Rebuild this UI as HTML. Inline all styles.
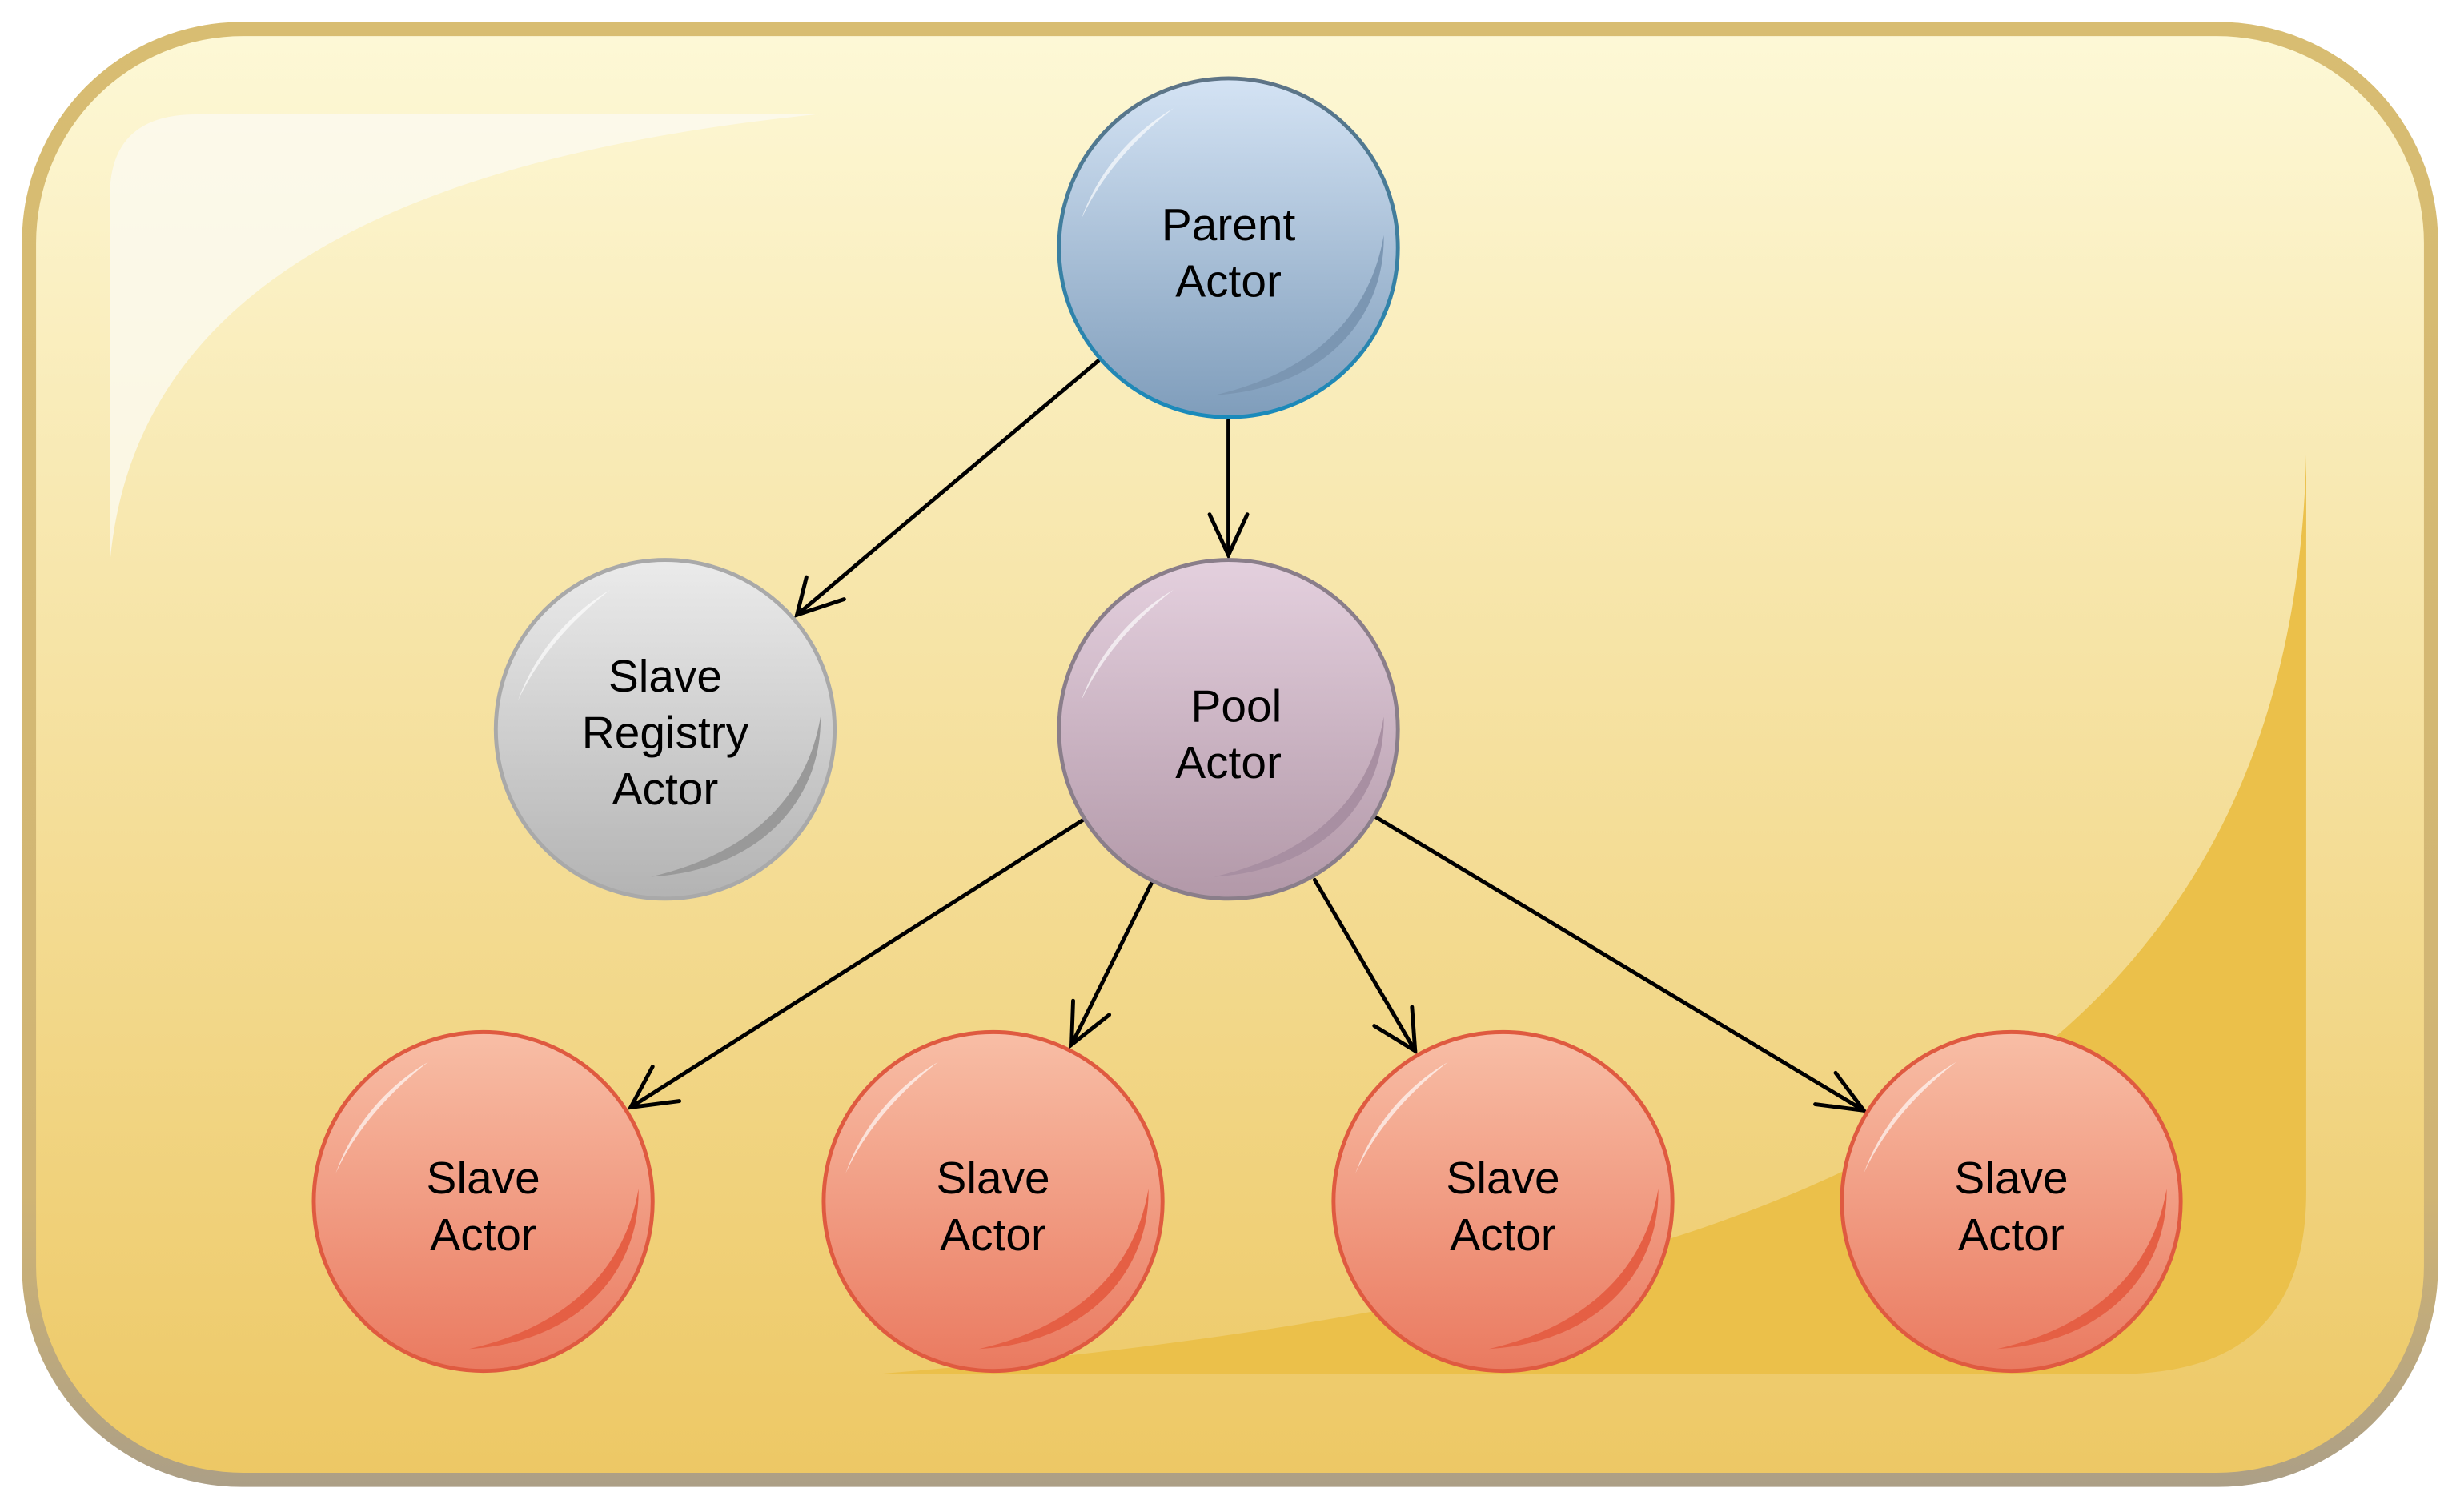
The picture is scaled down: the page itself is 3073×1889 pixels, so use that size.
<!DOCTYPE html>
<html><head><meta charset="utf-8"><style>html,body{margin:0;padding:0;background:#fff}svg{display:block}</style></head>
<body>
<svg width="3073" height="1889" viewBox="0 0 1568 964" preserveAspectRatio="none" xmlns="http://www.w3.org/2000/svg">
<defs>
<linearGradient id="bg" x1="0" y1="0" x2="0" y2="1"><stop offset="0" stop-color="#fdf8d6"/><stop offset="1" stop-color="#edc865"/></linearGradient>
<linearGradient id="bd" x1="0" y1="0" x2="0" y2="1"><stop offset="0" stop-color="#d8bd72"/><stop offset="0.8" stop-color="#d0b474"/><stop offset="1" stop-color="#ac9f86"/></linearGradient>
<linearGradient id="gb" x1="0" y1="0" x2="0" y2="1"><stop offset="0" stop-color="#d4e3f4"/><stop offset="1" stop-color="#7f9dbb"/></linearGradient>
<linearGradient id="sb" x1="0" y1="0" x2="0" y2="1"><stop offset="0" stop-color="#5e7486"/><stop offset="1" stop-color="#1a8abb"/></linearGradient>
<linearGradient id="gg" x1="0" y1="0" x2="0" y2="1"><stop offset="0" stop-color="#ebebeb"/><stop offset="1" stop-color="#b3b3b3"/></linearGradient>
<linearGradient id="gp" x1="0" y1="0" x2="0" y2="1"><stop offset="0" stop-color="#e4d0de"/><stop offset="1" stop-color="#b298a8"/></linearGradient>
<linearGradient id="gr" x1="0" y1="0" x2="0" y2="1"><stop offset="0" stop-color="#f8bea6"/><stop offset="1" stop-color="#ea7a60"/></linearGradient>
<g id="hl"><path d="M -94 -18 C -84 -46 -64 -72 -35 -89 C -62 -68 -82 -44 -94 -18 Z" fill="#fff" opacity="0.65"/></g>
</defs>
<rect x="14" y="14" width="1540" height="934" rx="140" fill="url(#bd)"/>
<rect x="23" y="23" width="1522" height="916" rx="132" fill="url(#bg)"/>
<path d="M 70 360 L 70 125 Q 70 73 125 73 L 520 73 C 260 100 85 180 70 360 Z" fill="#fbfaf0" opacity="0.8"/>
<path d="M 1470 290 L 1470 760 Q 1470 876 1350 876 L 560 876 C 1100 830 1460 720 1470 290 Z" fill="#ebc04a"/>
<g stroke="#000" stroke-width="2.5" fill="none" stroke-linecap="round">
<line x1="700" y1="230" x2="508" y2="392"/><path d="M 514 368 L 508 392 L 538 382"/>
<line x1="783" y1="268" x2="783" y2="354"/><path d="M 771 328 L 783 354 L 795 328"/>
<line x1="690" y1="523" x2="402" y2="706"/><path d="M 416 680 L 402 706 L 433 702"/>
<line x1="734" y1="563" x2="683" y2="666"/><path d="M 684 638 L 683 666 L 707 647"/>
<line x1="838" y1="561" x2="902" y2="670"/><path d="M 876 654 L 902 670 L 900 642"/>
<line x1="877" y1="521" x2="1188" y2="708"/><path d="M 1157 704 L 1188 708 L 1170 684"/>
</g>
<g font-family="Liberation Sans, sans-serif" font-size="29" text-anchor="middle" fill="#000">
<g transform="translate(783,158)"><circle r="108" fill="url(#gb)" stroke="url(#sb)" stroke-width="2.5"/><path d="M 99 -8 C 100 45 60 90 -9 94 C 52 80 90 45 99 -8 Z" fill="#7b96b2"/><use href="#hl"/><text y="-5">Parent</text><text y="31">Actor</text></g>
<g transform="translate(424,465)"><circle r="108" fill="url(#gg)" stroke="#a9a9a9" stroke-width="2.5"/><path d="M 99 -8 C 100 45 60 90 -9 94 C 52 80 90 45 99 -8 Z" fill="#999"/><use href="#hl"/><text y="-24">Slave</text><text y="12">Registry</text><text y="48">Actor</text></g>
<g transform="translate(783,465)"><circle r="108" fill="url(#gp)" stroke="#8a7e8a" stroke-width="2.5"/><path d="M 99 -8 C 100 45 60 90 -9 94 C 52 80 90 45 99 -8 Z" fill="#a88fa2"/><use href="#hl"/><text x="5" y="-5">Pool</text><text y="31">Actor</text></g>
<g transform="translate(308,766)"><circle r="108" fill="url(#gr)" stroke="#df5a40" stroke-width="2.5"/><path d="M 99 -8 C 100 45 60 90 -9 94 C 52 80 90 45 99 -8 Z" fill="#e55f44"/><use href="#hl"/><text y="-5">Slave</text><text y="31">Actor</text></g>
<g transform="translate(633,766)"><circle r="108" fill="url(#gr)" stroke="#df5a40" stroke-width="2.5"/><path d="M 99 -8 C 100 45 60 90 -9 94 C 52 80 90 45 99 -8 Z" fill="#e55f44"/><use href="#hl"/><text y="-5">Slave</text><text y="31">Actor</text></g>
<g transform="translate(958,766)"><circle r="108" fill="url(#gr)" stroke="#df5a40" stroke-width="2.5"/><path d="M 99 -8 C 100 45 60 90 -9 94 C 52 80 90 45 99 -8 Z" fill="#e55f44"/><use href="#hl"/><text y="-5">Slave</text><text y="31">Actor</text></g>
<g transform="translate(1282,766)"><circle r="108" fill="url(#gr)" stroke="#df5a40" stroke-width="2.5"/><path d="M 99 -8 C 100 45 60 90 -9 94 C 52 80 90 45 99 -8 Z" fill="#e55f44"/><use href="#hl"/><text y="-5">Slave</text><text y="31">Actor</text></g>
</g>
</svg>
</body></html>
